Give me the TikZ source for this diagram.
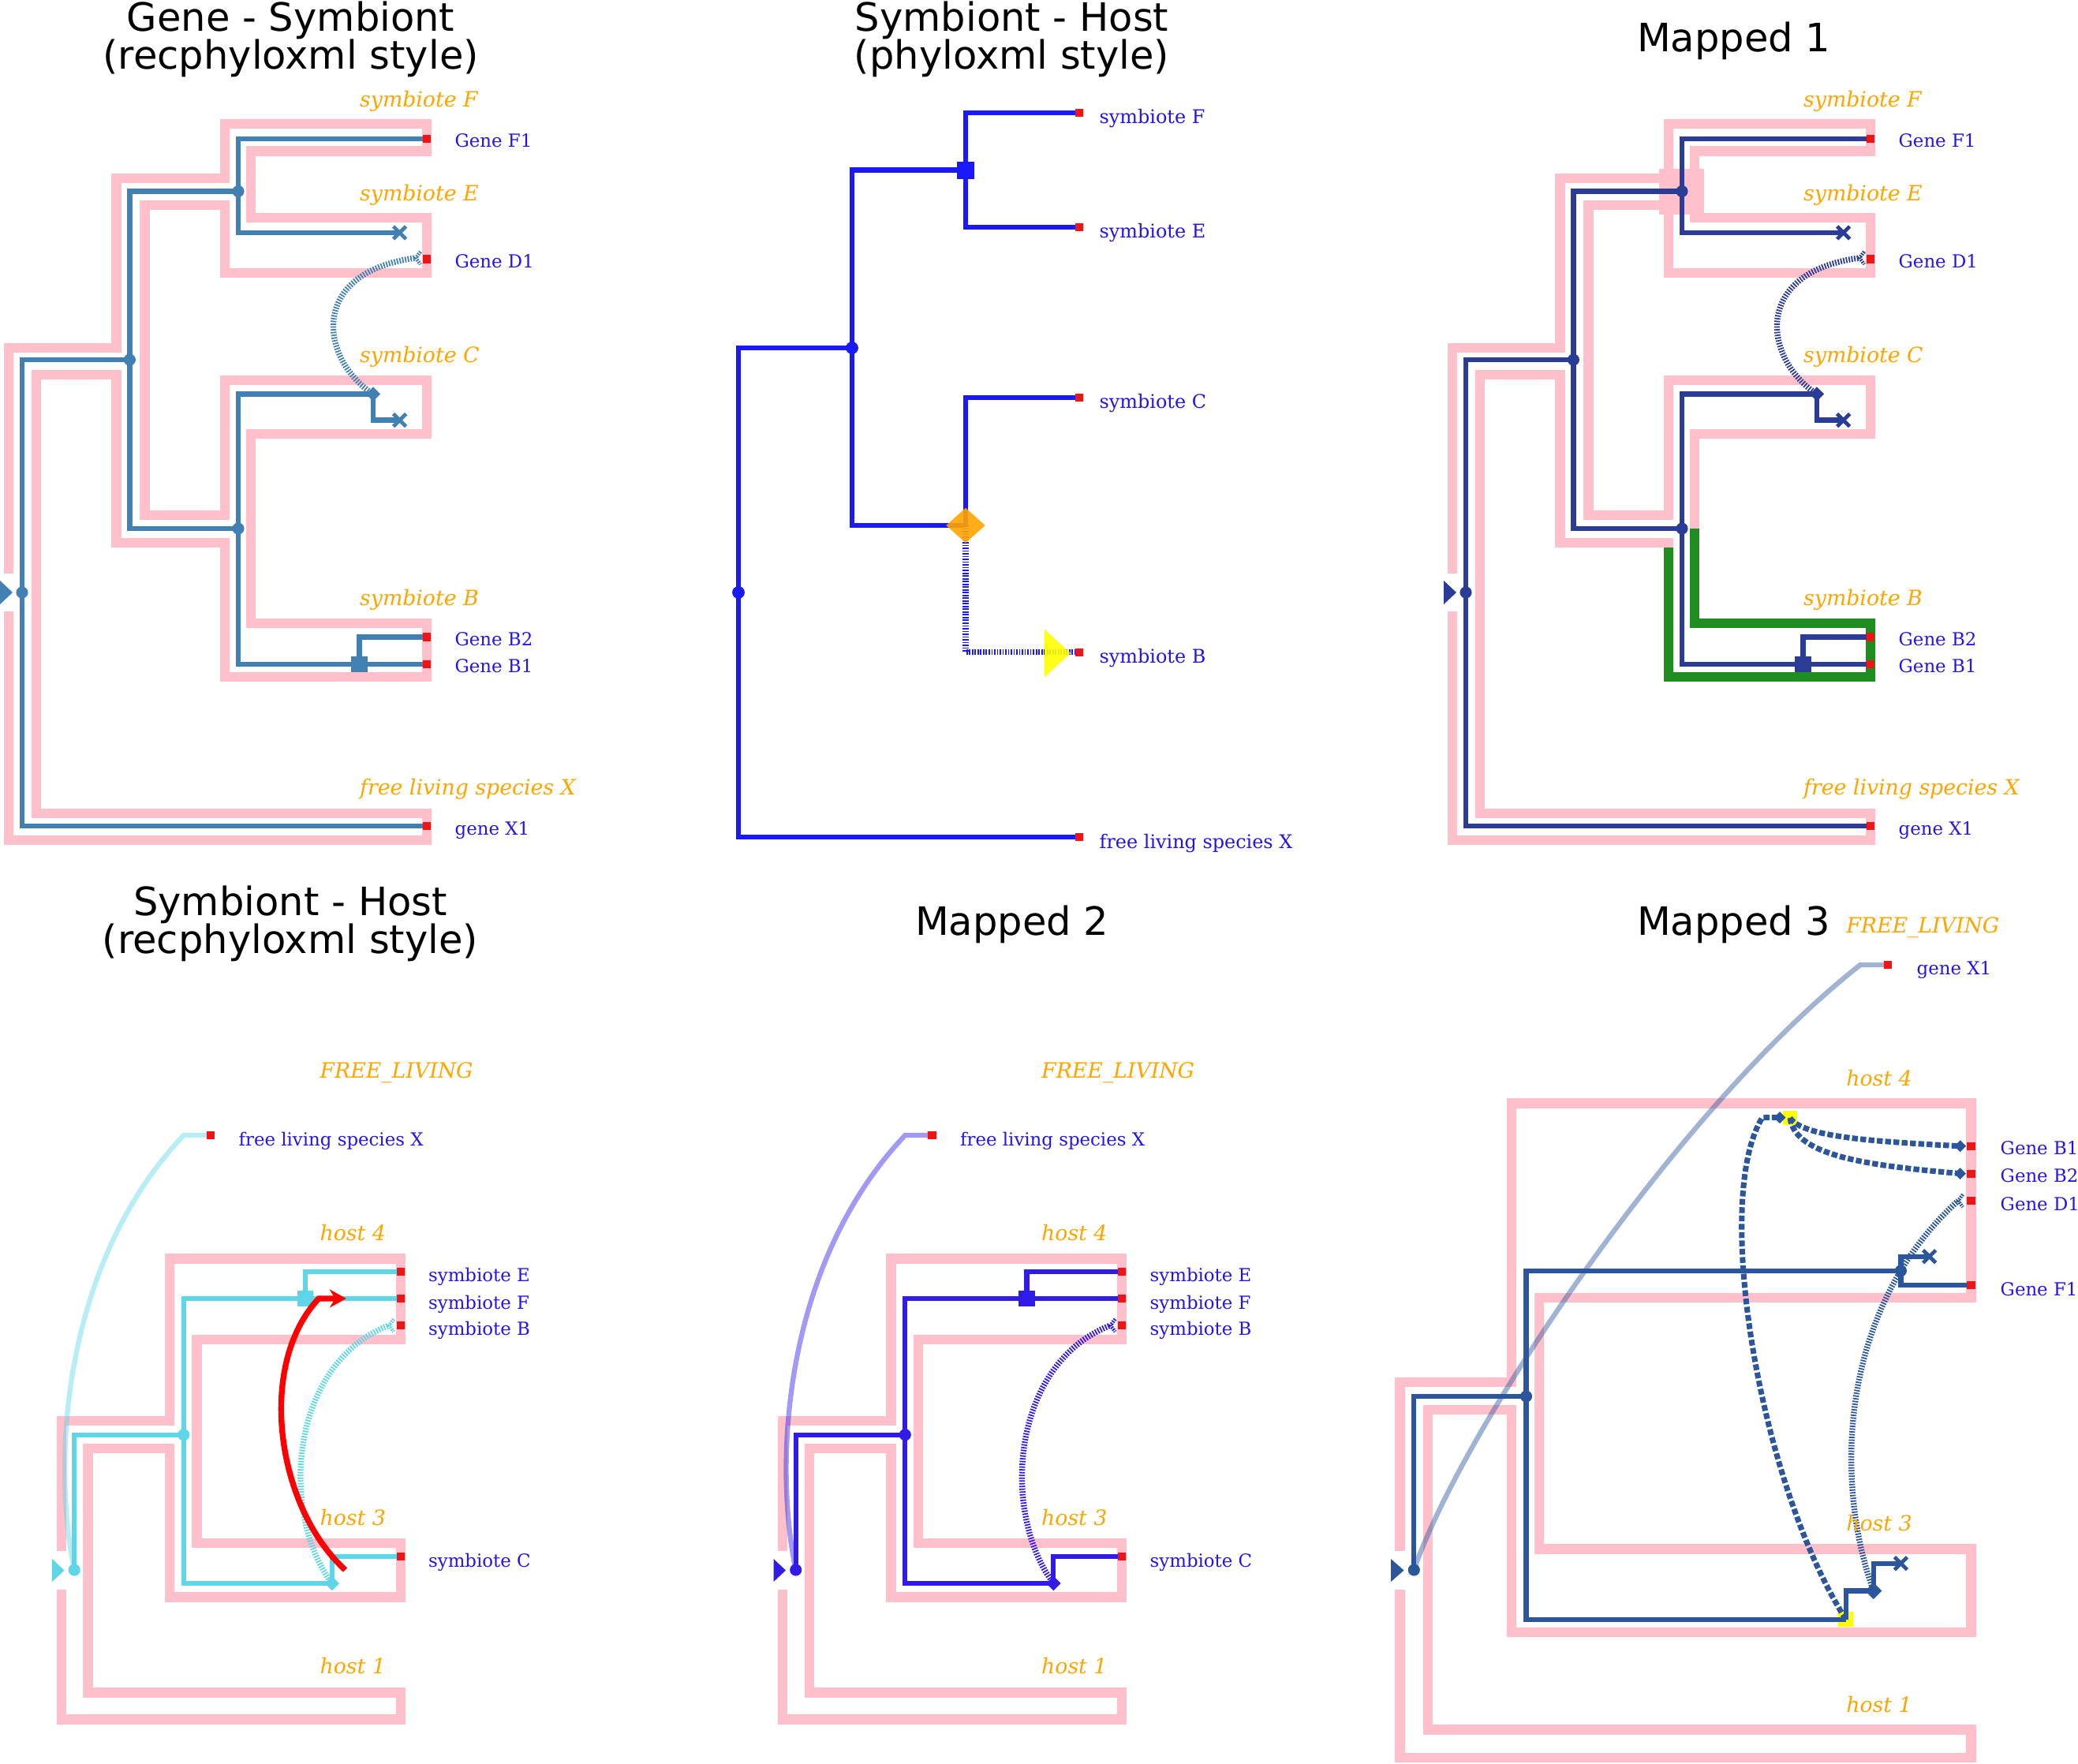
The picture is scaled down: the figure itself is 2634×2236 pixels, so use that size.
\documentclass[tikz,border=0pt]{standalone}
\usepackage{fontspec}
\setmainfont{DejaVu Serif}
\setsansfont{DejaVu Sans}
\usetikzlibrary{arrows.meta,shapes.geometric,shapes.misc}
\definecolor{pinkc}{RGB}{255,192,203}
\definecolor{orangec}{RGB}{255,165,0}
\definecolor{lblue}{RGB}{35,20,235}
\definecolor{redsq}{RGB}{240,20,20}
\definecolor{gA}{RGB}{66,128,180}
\definecolor{gB}{RGB}{25,25,250}
\definecolor{gC}{RGB}{42,60,150}
\definecolor{gD}{RGB}{95,214,232}
\definecolor{gE}{RGB}{48,28,230}
\definecolor{gF}{RGB}{44,86,155}
\definecolor{greenc}{RGB}{30,140,30}
\definecolor{yelc}{RGB}{255,255,0}
\tikzset{
 pinkl/.style={draw=pinkc, line width=3.5pt, line join=miter},
 gl/.style={line width=1.8pt, line join=miter},
 leafsq/.style={rectangle, fill=redsq, inner sep=0pt, minimum size=2.9pt},
 gdot/.style={circle, inner sep=0pt, minimum size=4.3pt},
 dupsq/.style={rectangle, inner sep=0pt, minimum size=5.8pt},
 trdia/.style={diamond, inner sep=0pt, minimum size=5.4pt},
 lossx/.style={cross out, line width=1.35pt, inner sep=0pt, minimum size=3.2pt},
 trdot/.style={line width=2.1pt, dash pattern=on 0.5pt off 0.5pt},
 trdash/.style={line width=2pt, dash pattern=on 2.1pt off 0.9pt},
 olab/.style={text=orangec, font=\itshape\fontsize{7.6}{9}\selectfont, anchor=base west, inner sep=0pt},
 blab/.style={text=lblue, font=\fontsize{6.5}{8}\selectfont, anchor=base west, inner sep=0pt},
 ttl/.style={font=\sffamily\fontsize{14.1}{16}\selectfont, anchor=base, inner sep=0pt},
}
\newcommand{\chevr}[2]{\draw[draw=#1, line width=1.3pt, dash pattern=on 0.5pt off 0.4pt] ([shift={(6,-8)}]#2) -- (#2) -- ([shift={(6,8)}]#2);}
\newcommand{\tubeA}{\draw[pinkl] (10.7,775) -- (10.7,1065) -- (541,1065) -- (541,1031) -- (46,1031) -- (46,475) -- (147.6,475) -- (147.6,688) -- (285,688) -- (285,858) -- (541,858) -- (541,790) -- (318,790) -- (318,550) -- (541,550) -- (541,482) -- (285,482) -- (285,653) -- (183.4,653) -- (183.4,260) -- (285,260) -- (285,346) -- (541,346) -- (541,276) -- (318,276) -- (318,191.5) -- (541,191.5) -- (541,157) -- (285,157) -- (285,226) -- (147.6,226) -- (147.6,441) -- (10.7,441) -- (10.7,727);}
\newcommand{\geneA}[2]{%
 \coordinate (#2r) at (28,751);
 \coordinate (#2a) at (164.4,456);
 \coordinate (#2fe) at (302,242.5);
 \coordinate (#2cb) at (302,670);
 \coordinate (#2t) at (473,499.5);
 \coordinate (#2d) at (455.5,842);
 \coordinate (#2lE) at (506.6,295);
 \coordinate (#2lC) at (506.6,532.6);
 \coordinate (#2F1) at (541,175.7);
 \coordinate (#2D1) at (541,328.6);
 \coordinate (#2B2) at (541,807.5);
 \coordinate (#2B1) at (541,842);
 \coordinate (#2X1) at (541,1047.3);
 \coordinate (#2ch) at (527,327);
 \draw[gl,draw=#1] (#2a) -| (#2r) |- (#2X1);
 \draw[gl,draw=#1] (#2fe) -| (#2a) |- (#2cb);
 \draw[gl,draw=#1] (#2F1) -| (#2fe) |- (#2lE);
 \draw[gl,draw=#1] (#2t) -| (#2cb) |- (#2B1);
 \draw[gl,draw=#1] (#2t) |- (#2lC);
 \draw[gl,draw=#1] (#2d) |- (#2B2);
 \draw[trdot,draw=#1] (#2t) .. controls (405,455) and (390,345) .. (#2ch);
 \chevr{#1}{#2ch}
 \fill[#1] (0,736) -- (0,766) -- (16,751) -- cycle;
 \node[gdot,fill=#1] (#2rn) at (#2r) {};
 \node[gdot,fill=#1] (#2an) at (#2a) {};
 \node[gdot,fill=#1] (#2fen) at (#2fe) {};
 \node[gdot,fill=#1] (#2cbn) at (#2cb) {};
 \node[trdia,fill=#1] (#2tn) at (#2t) {};
 \node[dupsq,fill=#1] (#2dn) at (#2d) {};
 \node[lossx,draw=#1] (#2lEn) at (#2lE) {};
 \node[lossx,draw=#1] (#2lCn) at (#2lC) {};
 \node[leafsq] (#2F1n) at (#2F1) {};
 \node[leafsq] (#2D1n) at (#2D1) {};
 \node[leafsq] (#2B2n) at (#2B2) {};
 \node[leafsq] (#2B1n) at (#2B1) {};
 \node[leafsq] (#2X1n) at (#2X1) {};
}
\newcommand{\labelsA}[1]{%
 \node[olab] (#1oF) at (455.5,135.7) {symbiote F};
 \node[olab] (#1oE) at (455.5,255) {symbiote E};
 \node[olab] (#1oC) at (455.5,460) {symbiote C};
 \node[olab] (#1oB) at (455.5,768) {symbiote B};
 \node[olab] (#1oX) at (455.5,1007) {free living species X};
 \node[blab] (#1bF1) at (576,186.4) {Gene F1};
 \node[blab] (#1bD1) at (576,339.3) {Gene D1};
 \node[blab] (#1bB2) at (576,818.2) {Gene B2};
 \node[blab] (#1bB1) at (576,852.7) {Gene B1};
 \node[blab] (#1bX1) at (576,1058) {gene X1};
}
\newcommand{\tubeB}{\draw[pinkl] (77.7,2015) -- (77.7,2179.5) -- (507.7,2179.5) -- (507.7,2145.5) -- (111.6,2145.5) -- (111.6,1836) -- (215,1836) -- (215,2024.5) -- (507.7,2024.5) -- (507.7,1956) -- (249.6,1956) -- (249.6,1698) -- (507.7,1698) -- (507.7,1595.6) -- (215,1595.6) -- (215,1801) -- (77.7,1801) -- (77.7,1966);}
\newcommand{\geneB}[2]{%
 \coordinate (#2r) at (94.2,1990);
 \coordinate (#2a) at (232.8,1818.7);
 \coordinate (#2d) at (387,1646);
 \coordinate (#2t) at (420.8,2007);
 \coordinate (#2E) at (507.7,1612);
 \coordinate (#2F) at (507.7,1646);
 \coordinate (#2B) at (507.7,1680);
 \coordinate (#2C) at (507.7,1973);
 \coordinate (#2fl) at (232.8,1439);
 \coordinate (#2X) at (267,1439);
 \coordinate (#2ch) at (493,1680);
 \draw[gl,draw=#1,draw opacity=.45] (#2r) .. controls (65,1850) and (80,1600) .. (#2fl) -- (#2X);
 \draw[gl,draw=#1] (#2a) -| (#2r);
 \draw[gl,draw=#1] (#2F) -| (#2a) |- (#2t);
 \draw[gl,draw=#1] (#2d) |- (#2E);
 \draw[gl,draw=#1] (#2t) |- (#2C);
 \draw[trdot,draw=#1] (#2t) .. controls (355,1920) and (365,1730) .. (#2ch);
 \chevr{#1}{#2ch}
 \fill[#1] (66,1976) -- (66,2005) -- (81.5,1990.5) -- cycle;
 \node[gdot,fill=#1] (#2rn) at (#2r) {};
 \node[gdot,fill=#1] (#2an) at (#2a) {};
 \node[dupsq,fill=#1] (#2dn) at (#2d) {};
 \node[trdia,fill=#1] (#2tn) at (#2t) {};
 \node[leafsq] (#2En) at (#2E) {};
 \node[leafsq] (#2Fn) at (#2F) {};
 \node[leafsq] (#2Bn) at (#2B) {};
 \node[leafsq] (#2Cn) at (#2C) {};
 \node[leafsq] (#2Xn) at (#2X) {};
}
\newcommand{\labelsB}[1]{%
 \node[olab] (#1oFL) at (405,1366) {FREE\_LIVING};
 \node[olab] (#1o4) at (405,1572.4) {host 4};
 \node[olab] (#1o3) at (405,1933) {host 3};
 \node[olab] (#1o1) at (405,2121.5) {host 1};
 \node[blab] (#1bE) at (542.5,1624.5) {symbiote E};
 \node[blab] (#1bF) at (542.5,1659) {symbiote F};
 \node[blab] (#1bB) at (542.5,1692.6) {symbiote B};
 \node[blab] (#1bC) at (542.5,1986) {symbiote C};
 \node[blab] (#1bX) at (302,1452) {free living species X};
}
\begin{document}
\begin{tikzpicture}[x=0.1mm,y=-0.1mm]
\useasboundingbox (0,0) rectangle (2634,2236);
% ---------- panel 1
\tubeA
\geneA{gA}{pA}
\labelsA{pA}
\node[ttl] (t1a) at (368.6,40) {Gene - Symbiont};
\node[ttl] (t1b) at (368.6,88) {(recphyloxml style)};
% ---------- panel 2
\coordinate (r2) at (936,751);
\coordinate (n2a) at (1080,441);
\coordinate (n2d) at (1224,215.7);
\coordinate (n2t) at (1224,666);
\coordinate (L2F) at (1368,143);
\coordinate (L2E) at (1368,288);
\coordinate (L2C) at (1368,504);
\coordinate (L2B) at (1368,826.8);
\coordinate (L2X) at (1368,1061);
\draw[gl,line width=1.9pt,draw=gB] (n2a) -| (r2) |- (L2X);
\draw[gl,line width=1.9pt,draw=gB] (n2d) -| (n2a) |- (n2t);
\draw[gl,line width=1.9pt,draw=gB] (L2F) -| (n2d) |- (L2E);
\draw[gl,line width=1.9pt,draw=gB] (n2t) |- (L2C);
\draw[trdot,draw=gB] (n2t) |- (L2B);
\fill[yelc,opacity=.9] (1324,798) -- (1324,858) -- (1357,828) -- cycle;
\node[diamond,fill=orangec,opacity=.9,inner sep=0pt,minimum width=14.2pt,minimum height=12.8pt] (n2tn) at (n2t) {};
\node[gdot,fill=gB,minimum size=4.5pt] (r2n) at (r2) {};
\node[gdot,fill=gB,minimum size=4.5pt] (n2an) at (n2a) {};
\node[dupsq,fill=gB,minimum size=6.3pt] (n2dn) at (n2d) {};
\foreach \q in {L2F,L2E,L2C,L2B,L2X} {\node[leafsq] (\q n) at (\q) {};}
\begin{scope}[blab/.append style={font=\fontsize{6.8}{8}\selectfont}]
\node[blab] (b2F) at (1393,157) {symbiote F};
\node[blab] (b2E) at (1393,302) {symbiote E};
\node[blab] (b2C) at (1393,518) {symbiote C};
\node[blab] (b2B) at (1393,841) {symbiote B};
\node[blab] (b2X) at (1393,1075) {free living species X};
\end{scope}
\node[ttl] (t2a) at (1282.5,40) {Symbiont - Host};
\node[ttl] (t2b) at (1282.5,88) {(phyloxml style)};
% ---------- panel 3
\begin{scope}[shift={(1830,0)}]
\tubeA
\draw[pinkl,draw=greenc,line width=3.6pt] (318,670) -- (318,790) -- (541,790) -- (541,858) -- (285,858) -- (285,694.5);
\fill[pinkc] (273,213.6) rectangle (330,272);
\geneA{gC}{pC}
\labelsA{pC}
\end{scope}
\node[ttl] (t3) at (2197.6,65.5) {Mapped 1};
% ---------- panel 4
\tubeB
\geneB{gD}{pD}
\coordinate (rs) at (437.6,1990);
\coordinate (rm) at (404,1646);
\coordinate (rt) at (439,1646);
\draw[red,line width=2.1pt,-{Stealth[length=6pt,width=6.5pt]}] (rs) .. controls (350,1910) and (325,1730) .. (rm) -- (rt);
\labelsB{pD}
\node[ttl] (t4a) at (368,1160) {Symbiont - Host};
\node[ttl] (t4b) at (368,1208) {(recphyloxml style)};
% ---------- panel 5
\begin{scope}[shift={(914.5,0)}]
\tubeB
\geneB{gE}{pE}
\labelsB{pE}
\end{scope}
\node[ttl] (t5) at (1282.8,1185.5) {Mapped 2};
% ---------- panel 6
\draw[pinkl] (1774.5,2015) -- (1774.5,2228) -- (2498.5,2228) -- (2498.5,2192.5) -- (1810,2192.5) -- (1810,1787) -- (1916,1787) -- (1916,2069) -- (2498.5,2069) -- (2498.5,1963.6) -- (1951,1963.6) -- (1951,1645) -- (2498.5,1645) -- (2498.5,1398.5) -- (1916,1398.5) -- (1916,1752) -- (1774.5,1752) -- (1774.5,1966);
\coordinate (r6) at (1792.3,1990);
\coordinate (a6) at (1934.5,1770);
\coordinate (f6) at (2409.4,1610.8);
\coordinate (y6) at (2339.7,2052.7);
\coordinate (t6) at (2374.8,2016.5);
\coordinate (lF6) at (2445.6,1592.7);
\coordinate (lC6) at (2409.4,1981.7);
\coordinate (F16) at (2498.5,1629);
\coordinate (dl6) at (2233.8,1416.6);
\coordinate (dd6) at (2256,1416.6);
\coordinate (ys6) at (2269,1417);
\coordinate (B1d) at (2484.6,1452.8);
\coordinate (B2d) at (2484.6,1487.6);
\coordinate (B16) at (2498.5,1452.8);
\coordinate (B26) at (2498.5,1487.6);
\coordinate (D16) at (2498.5,1522);
\coordinate (D1c) at (2482,1522);
\coordinate (fl6) at (2358,1223);
\coordinate (X16) at (2392.7,1223);
\node[rectangle,fill=yelc,inner sep=0pt,minimum size=5.4pt] (ysq1) at (2339.7,2052) {};
\node[rectangle,fill=yelc,inner sep=0pt,minimum size=5.2pt] (ysq2) at (ys6) {};
\draw[gl,draw=gF,draw opacity=.45] (r6) .. controls (1850,1820) and (2120,1410) .. (fl6) -- (X16);
\draw[gl,draw=gF] (a6) -| (r6);
\draw[gl,draw=gF] (f6) -| (a6) |- (y6);
\draw[gl,draw=gF] (lF6) -| (f6) |- (F16);
\draw[gl,draw=gF] (y6) |- (t6);
\draw[gl,draw=gF] (t6) |- (lC6);
\draw[trdash,draw=gF] (y6) .. controls (2230,1880) and (2170,1520) .. (dl6) -- (dd6);
\draw[trdash,draw=gF] (ys6) .. controls (2285,1442) and (2380,1447) .. (B1d);
\draw[trdash,draw=gF] (ys6) .. controls (2275,1468) and (2380,1478) .. (B2d);
\draw[trdot,draw=gF] (t6) .. controls (2325,1880) and (2330,1660) .. (D1c);
\chevr{gF}{D1c}
\fill[gF] (1763,1976) -- (1763,2005) -- (1779.5,1990.5) -- cycle;
\node[gdot,fill=gF] (r6n) at (r6) {};
\node[gdot,fill=gF] (a6n) at (a6) {};
\node[gdot,fill=gF] (f6n) at (f6) {};
\node[trdia,fill=gF,minimum size=6.2pt] (t6n) at (t6) {};
\node[trdia,fill=gF,minimum size=4.4pt] (dd6n) at (dd6) {};
\node[trdia,fill=gF,minimum size=4.4pt] (B1dn) at (B1d) {};
\node[trdia,fill=gF,minimum size=4.4pt] (B2dn) at (B2d) {};
\node[lossx,draw=gF] (lF6n) at (lF6) {};
\node[lossx,draw=gF] (lC6n) at (lC6) {};
\foreach \q in {F16,B16,B26,D16,X16} {\node[leafsq] (\q n) at (\q) {};}
\node[olab] (o6FL) at (2339.7,1182) {FREE\_LIVING};
\node[olab] (o64) at (2339.7,1376.8) {host 4};
\node[olab] (o63) at (2339.7,1940.4) {host 3};
\node[olab] (o61) at (2339.7,2170.8) {host 1};
\node[blab] (b6B1) at (2535,1463.3) {Gene B1};
\node[blab] (b6B2) at (2535,1498.3) {Gene B2};
\node[blab] (b6D1) at (2535,1534) {Gene D1};
\node[blab] (b6F1) at (2535,1642) {Gene F1};
\node[blab] (b6X1) at (2429,1235.5) {gene X1};
\node[ttl] (t6t) at (2197.6,1185.5) {Mapped 3};
\end{tikzpicture}
\end{document}
